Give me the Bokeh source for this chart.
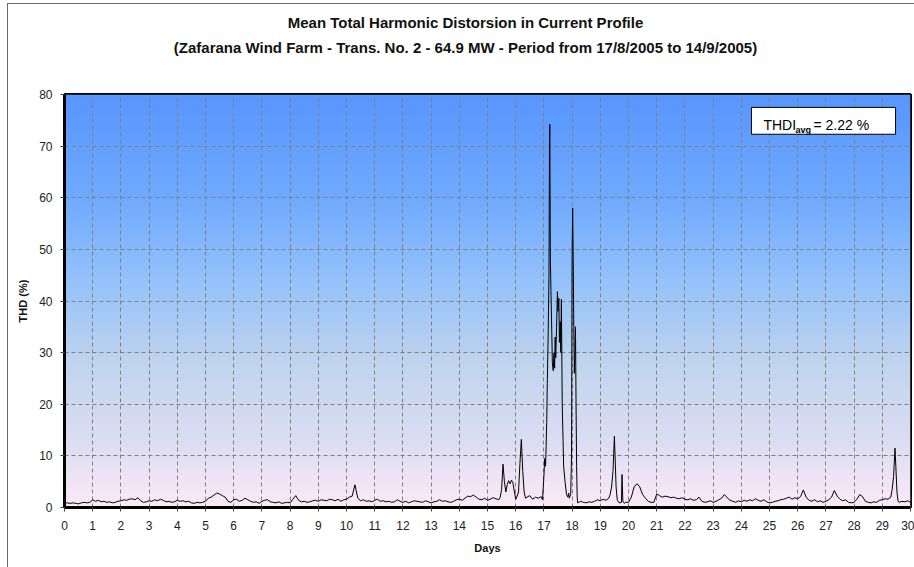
import numpy as np
from bokeh.plotting import figure
from bokeh.models import Range1d, FixedTicker, Label, BoxAnnotation, LinearAxis
from bokeh.embed import file_html
from bokeh.resources import INLINE

# ---------------- data ----------------
TITLE_1 = "Mean Total Harmonic Distorsion in Current Profile"
TITLE_2 = "(Zafarana Wind Farm - Trans. No. 2 - 64.9 MW - Period from 17/8/2005 to 14/9/2005)"
X_LABEL = "Days"
Y_LABEL = "THD (%)"
THD_AVG_TEXT = "= 2.22 %"
x_ticks = list(range(0, 31))
y_ticks = [0, 10, 20, 30, 40, 50, 60, 70, 80]

SAMPLE_STEP_DAYS = 0.1
# base profile, one reading every 0.1 day (rows = days 0..29, then day 30)
thd_base = [
    0.8, 0.9, 0.8, 0.9, 0.8, 0.7, 0.9, 1.0, 0.9, 1.0,
    1.5, 1.2, 1.4, 1.1, 1.2, 1.0, 1.1, 0.9, 1.0, 1.2,
    1.3, 1.5, 1.4, 1.6, 1.7, 1.5, 1.9, 1.3, 1.0, 1.1,
    1.3, 1.2, 1.5, 1.3, 1.6, 1.4, 1.1, 1.2, 1.0, 1.1,
    1.4, 1.2, 1.3, 1.1, 1.2, 0.9, 0.8, 1.0, 0.9, 1.0,
    1.2, 1.8, 2.0, 2.4, 2.8, 2.6, 2.3, 2.0, 1.2, 1.0,
    1.5, 1.6, 1.2, 1.4, 1.8, 1.5, 1.2, 1.0, 1.1, 0.8,
    1.2, 1.4, 1.5, 1.1, 1.0, 0.9, 1.1, 0.8, 0.9, 1.0,
    0.9, 1.6, 2.3, 1.4, 1.1, 1.2, 1.0, 1.1, 1.3, 1.4,
    1.2, 1.5, 1.4, 1.3, 1.6, 1.5, 1.3, 1.6, 1.2, 1.5,
    1.6, 2.0, 2.2, 4.4, 1.8, 1.3, 1.5, 1.2, 1.3, 1.1,
    1.4, 1.6, 1.2, 1.3, 1.1, 1.2, 1.0, 1.1, 1.5, 1.2,
    1.0, 1.2, 0.9, 1.1, 1.3, 1.2, 1.1, 1.0, 1.3, 1.1,
    0.9, 1.1, 1.2, 1.5, 1.2, 1.3, 1.1, 1.0, 1.2, 1.5,
    1.6, 1.4, 1.8, 2.2, 2.1, 2.4, 2.0, 1.6, 1.5, 1.8,
    1.4, 1.6, 1.9, 1.7, 1.8, 3.5, 5.0, 4.8, 5.0, 3.0,
    1.6, 3.0, 13.2, 3.0, 2.0, 2.3, 1.6, 2.0, 1.8, 2.1,
    6.0, 24.0, 71.0, 28.0, 33.0, 38.0, 30.0, 8.0, 2.0, 1.0,
    49.0, 30.0, 0.9, 1.2, 1.0, 0.9, 1.1, 1.0, 1.2, 1.5,
    1.3, 1.6, 1.4, 1.8, 4.0, 13.8, 1.5, 1.0, 1.2, 1.0,
    1.0, 2.0, 4.0, 4.6, 4.0, 2.5, 1.8, 1.2, 1.0, 1.0,
    2.6, 2.3, 2.0, 2.2, 2.1, 1.9, 2.0, 1.8, 1.7, 1.9,
    1.6, 1.5, 1.7, 1.4, 1.5, 2.0, 1.2, 1.0, 1.1, 1.3,
    1.0, 1.2, 1.5, 1.8, 2.5, 1.9, 1.4, 1.2, 1.0, 1.3,
    1.1, 1.4, 1.2, 1.5, 1.3, 1.7, 1.4, 1.2, 1.5, 1.1,
    0.9, 1.0, 1.2, 1.3, 1.5, 1.6, 1.8, 2.0, 1.6, 1.9,
    1.7, 2.1, 3.4, 2.0, 1.4, 1.2, 1.5, 1.1, 1.3, 1.0,
    1.2, 1.5, 2.0, 3.3, 2.2, 1.6, 1.3, 1.5, 1.0, 0.9,
    1.0, 1.6, 2.5, 2.1, 1.2, 1.0, 0.9, 1.1, 1.0, 1.4,
    1.5, 1.7, 1.6, 2.0, 6.0, 3.0, 1.0, 1.2, 1.1, 1.3,
    1.0,
]

# finer readings inside the disturbance windows
detail_windows = [(15.4, 18.3), (19.35, 19.9), (29.3, 29.6)]
detail_days = [
    15.40, 15.45, 15.50, 15.55, 15.60, 15.65, 15.70, 15.75, 15.80, 15.85, 15.90, 15.95,
    16.00, 16.05, 16.10, 16.15, 16.20, 16.25, 16.30, 16.35, 16.40, 16.50, 16.60, 16.70,
    16.80, 16.90, 16.95, 17.00, 17.03, 17.06, 17.08, 17.10, 17.12, 17.15, 17.18, 17.20,
    17.21, 17.22, 17.23, 17.25, 17.28, 17.30, 17.33, 17.36, 17.38, 17.40, 17.42, 17.45,
    17.48, 17.50, 17.53, 17.55, 17.58, 17.60, 17.62, 17.65, 17.68, 17.70, 17.75, 17.80,
    17.85, 17.88, 17.90, 17.95, 17.98, 18.00, 18.02, 18.04, 18.06, 18.08, 18.10, 18.12,
    18.14, 18.16, 18.18, 18.20, 18.30,
    19.35, 19.40, 19.45, 19.50, 19.53, 19.56, 19.60, 19.65, 19.70, 19.75, 19.77, 19.80,
    19.85, 19.90,
    29.30, 29.35, 29.40, 29.45, 29.48, 29.52, 29.56, 29.60,
]
detail_thd = [
    1.5, 2.0, 3.5, 8.4, 5.0, 3.0, 4.5, 5.2, 4.6, 5.3, 4.8, 3.2,
    1.6, 2.2, 3.0, 8.5, 13.2, 7.0, 3.0, 1.8, 2.0, 2.3, 1.6, 2.0,
    1.8, 2.1, 1.5, 6.0, 9.5, 8.0, 12.0, 16.5, 24.0, 33.0, 45.0, 71.0,
    74.2, 60.0, 48.0, 42.0, 34.0, 28.0, 26.5, 30.0, 27.0, 33.0, 29.0, 35.0,
    41.8, 38.0, 40.5, 32.0, 36.0, 30.0, 40.3, 20.0, 13.0, 8.0, 5.0, 2.6,
    2.0, 2.8, 1.8, 2.5, 10.0, 49.0, 58.0, 48.0, 35.0, 26.0, 30.0, 35.0,
    20.0, 8.0, 2.0, 0.9, 1.2,
    2.5, 4.0, 7.0, 13.8, 9.0, 4.0, 1.5, 1.0, 0.9, 1.0, 6.4, 1.2,
    0.8, 1.0,
    2.0, 3.5, 6.0, 11.5, 8.0, 3.0, 1.2, 1.0,
]

# background gradient stops (fraction of y range, rgb)
GRADIENT_STOPS = [
    (0.00, (252, 234, 248)),
    (0.15, (222, 222, 242)),
    (0.35, (192, 212, 238)),
    (0.55, (148, 194, 250)),
    (0.75, (112, 170, 255)),
    (1.00, (88, 150, 255)),
]
TITLE_X = 14.22   # horizontal centre of the title block, in day units

# ---------------- assemble series ----------------
base_days = [round(i * SAMPLE_STEP_DAYS, 2) for i in range(len(thd_base))]
pts = [(d, v) for d, v in zip(base_days, thd_base)
       if not any(lo - 1e-9 <= d <= hi + 1e-9 for lo, hi in detail_windows)]
pts += list(zip(detail_days, detail_thd))
pts.sort()
days = [d for d, _ in pts]
thd = [v for _, v in pts]

FONT = "Liberation Sans"

p = figure(width=914, height=567, output_backend="svg", toolbar_location=None,
           x_range=Range1d(0, 30), y_range=Range1d(0, 80),
           min_border_left=64, min_border_right=4, min_border_bottom=60,
           min_border_top=94)
p.border_fill_color = "white"
p.border_fill_alpha = 0
p.background_fill_color = "#a8c8f0"
p.styles = {"background-color": "white",
            "box-shadow": "inset 7px 3px 0 0 #ffffff, inset 8px 4px 0 0 #6a6a6a"}

# gradient image as background
N = 256
img = np.empty((N, 1), dtype=np.uint32)
view = img.view(dtype=np.uint8).reshape((N, 1, 4))
fr = [s[0] for s in GRADIENT_STOPS]
for c in range(3):
    view[:, 0, c] = np.interp(np.linspace(0, 1, N), fr, [s[1][c] for s in GRADIENT_STOPS]).astype(np.uint8)
view[:, 0, 3] = 255
p.image_rgba(image=[img], x=0, y=0, dw=30, dh=80, level="image")

p.line(days, thd, line_color="black", line_width=1)

# main axes (configure before adding the title axes)
xax = p.below[0]
yax = p.left[0]
xax.ticker = FixedTicker(ticks=x_ticks)
yax.ticker = FixedTicker(ticks=y_ticks)
xax.axis_label = X_LABEL
yax.axis_label = Y_LABEL
for ax in (xax, yax):
    ax.axis_label_text_font = FONT
    ax.axis_label_text_font_size = "11px"
    ax.axis_label_text_font_style = "bold"
    ax.axis_label_text_color = "#111"
    ax.major_label_text_font = FONT
    ax.major_label_text_font_size = "12px"
    ax.major_label_text_color = "#222"
    ax.minor_tick_line_color = None
    ax.major_tick_in = 0
    ax.major_tick_out = 4
    ax.major_tick_line_color = "#444"
    ax.axis_line_color = "black"
    ax.axis_line_width = 3
xax.major_label_standoff = 9
xax.axis_label_standoff = 9
yax.major_label_standoff = 8
yax.axis_label_standoff = 7

# two-line title, drawn as text-only axes above the frame
def title_axis(text, standoff):
    ax = LinearAxis(ticker=FixedTicker(ticks=[TITLE_X]),
                    major_label_overrides={TITLE_X: text})
    ax.axis_line_color = None
    ax.major_tick_line_color = None
    ax.minor_tick_line_color = None
    ax.major_tick_out = 0
    ax.major_tick_in = 0
    ax.major_label_standoff = standoff
    ax.major_label_text_font = FONT
    ax.major_label_text_font_size = "15px"
    ax.major_label_text_font_style = "bold"
    ax.major_label_text_color = "#111"
    return ax

p.add_layout(title_axis(TITLE_2, 39), "above")
p.add_layout(title_axis(TITLE_1, 5), "above")

p.outline_line_color = "black"
p.outline_line_width = 3
p.outline_line_alpha = 1

p.xgrid.ticker = FixedTicker(ticks=x_ticks)
p.ygrid.ticker = FixedTicker(ticks=y_ticks)
p.grid.grid_line_color = "#808080"
p.grid.grid_line_dash = "4 3"
p.grid.grid_line_width = 1

# average box
BOX_L = 24.36
p.add_layout(BoxAnnotation(left=BOX_L, right=29.47, bottom=72.3, top=77.5,
                           fill_color="white", fill_alpha=1,
                           line_color="black", line_width=1, line_alpha=1))
p.add_layout(Label(x=BOX_L, y=74.1, x_offset=12, text="THDI", text_font=FONT,
                   text_font_size="14px", text_baseline="middle", text_color="black"))
p.add_layout(Label(x=BOX_L, y=74.1, x_offset=44, y_offset=-5, text="avg", text_font=FONT,
                   text_font_size="9px", text_font_style="bold",
                   text_baseline="middle", text_color="black"))
p.add_layout(Label(x=BOX_L, y=74.1, x_offset=62, text=THD_AVG_TEXT, text_font=FONT,
                   text_font_size="14px", text_baseline="middle", text_color="black"))

open("out.html", "w").write(file_html(p, INLINE))
